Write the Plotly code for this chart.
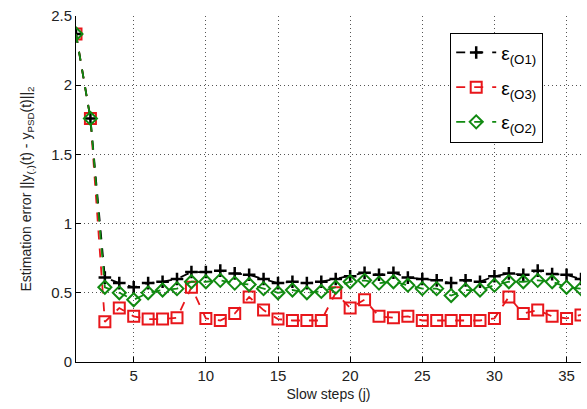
import plotly.graph_objects as go

steps = list(range(1, 37))

err_o1 = [2.37, 1.76, 0.61, 0.57, 0.54, 0.57, 0.58, 0.60, 0.65, 0.65,
          0.66, 0.64, 0.63, 0.60, 0.57, 0.58, 0.57, 0.58, 0.60, 0.62,
          0.645, 0.63, 0.645, 0.61, 0.60, 0.59, 0.57, 0.59, 0.58, 0.62,
          0.64, 0.63, 0.66, 0.635, 0.63, 0.60]

err_o3 = [2.37, 1.76, 0.29, 0.39, 0.33, 0.31, 0.31, 0.32, 0.54, 0.315,
          0.30, 0.35, 0.47, 0.375, 0.31, 0.30, 0.30, 0.30, 0.50, 0.39,
          0.45, 0.33, 0.32, 0.33, 0.30, 0.30, 0.30, 0.30, 0.30, 0.315,
          0.47, 0.35, 0.375, 0.33, 0.315, 0.34]

err_o2 = [2.37, 1.76, 0.54, 0.50, 0.45, 0.50, 0.52, 0.53, 0.58, 0.58,
          0.59, 0.57, 0.56, 0.53, 0.50, 0.52, 0.50, 0.51, 0.54, 0.58,
          0.59, 0.57, 0.58, 0.555, 0.53, 0.53, 0.48, 0.52, 0.52, 0.555,
          0.58, 0.58, 0.59, 0.58, 0.54, 0.53]

names = ["ε<sub>(O1)</sub>", "ε<sub>(O3)</sub>", "ε<sub>(O2)</sub>"]

x_ticks = [5, 10, 15, 20, 25, 30, 35]
y_ticks = [0, 0.5, 1, 1.5, 2, 2.5]
y_tick_text = ["0", "0.5", "1", "1.5", "2", "2.5"]

RED = "#e8161b"
GREEN = "#118a11"
BLACK = "#000000"

fig = go.Figure()

fig.add_trace(go.Scatter(
    x=steps, y=err_o3, name=names[1], legendrank=2, legendgroup="o3",
    mode="lines+markers",
    line=dict(color=RED, width=1.8, dash="dash"),
    marker=dict(symbol="square-open", size=11, color=RED, line=dict(width=2, color=RED)),
))
fig.add_trace(go.Scatter(
    x=steps, y=err_o1, name=names[0], legendrank=1, legendgroup="o1",
    mode="lines+markers",
    line=dict(color=BLACK, width=1.8, dash="dash"),
    marker=dict(symbol="cross-thin", size=9, color=BLACK, line=dict(width=2.5, color=BLACK)),
))
fig.add_trace(go.Scatter(
    x=steps, y=err_o2, name=names[2], legendrank=3, legendgroup="o2",
    mode="lines+markers",
    line=dict(color=GREEN, width=1.8, dash="dash"),
    marker=dict(symbol="diamond-open", size=10, color=GREEN, line=dict(width=2, color=GREEN)),
))

axis_font = dict(family="Liberation Sans, Arial, sans-serif", size=15, color="#222222")
title_font = dict(family="Liberation Sans, Arial, sans-serif", size=14, color="#222222")
grid_dash = "1px,3px"

fig.update_layout(
    width=587, height=409,
    margin=dict(l=76, r=6, t=16, b=47),
    paper_bgcolor="white", plot_bgcolor="white",
    font=axis_font,
    showlegend=True,
    legend=dict(
        x=0.741, y=0.952, xanchor="left", yanchor="top",
        bgcolor="white", bordercolor="black", borderwidth=1,
        font=dict(family="Liberation Sans, Arial, sans-serif", size=19, color="black"),
        tracegroupgap=7, itemwidth=40,
    ),
    xaxis=dict(
        range=[1, 36], tickvals=x_ticks, ticks="inside", ticklen=5, tickcolor="black",
        showline=True, linecolor="black", linewidth=1,
        showgrid=True, gridcolor="#555555", gridwidth=1, griddash=grid_dash,
        zeroline=False, tickfont=axis_font,
        title=dict(text="Slow steps (j)", font=title_font, standoff=6),
    ),
    yaxis=dict(
        range=[0, 2.5], tickvals=y_ticks, ticktext=y_tick_text, ticks="inside", ticklen=5,
        tickcolor="black",
        showline=True, linecolor="black", linewidth=1,
        showgrid=True, gridcolor="#555555", gridwidth=1, griddash=grid_dash,
        zeroline=False, tickfont=axis_font,
        title=dict(text="Estimation error ||y<sub>(.)</sub>(t) - y<sub>PSD</sub>(t)||<sub>2</sub>",
                   font=title_font, standoff=16),
    ),
)

fig.write_html("out.html")
